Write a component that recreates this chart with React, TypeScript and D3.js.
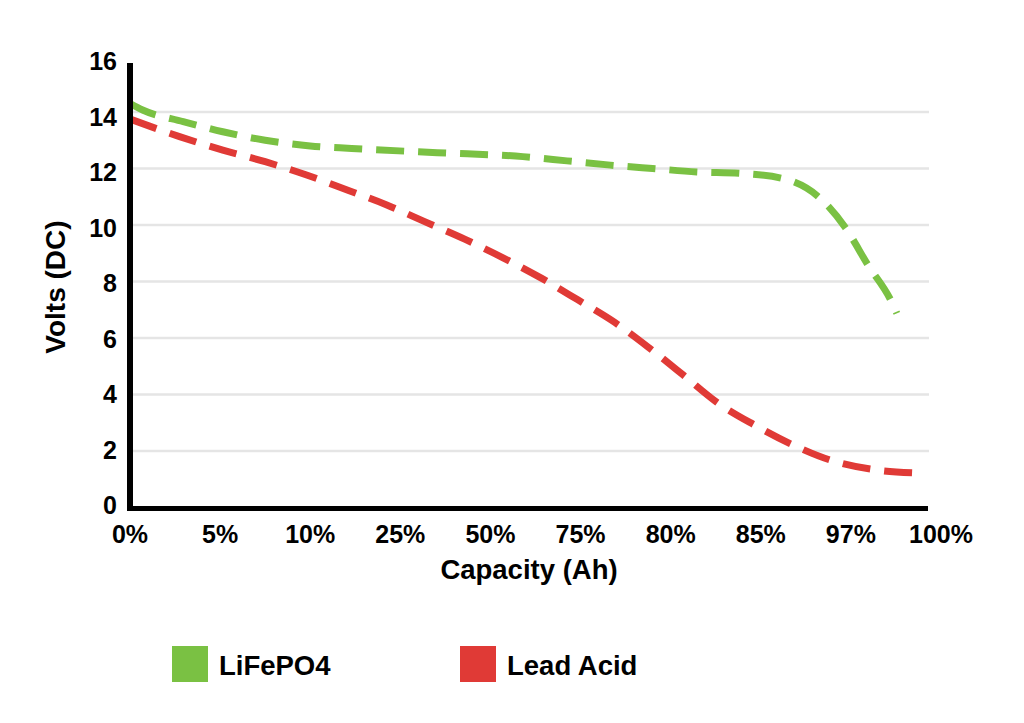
import React from "react";
import * as d3 from "d3";

const categories = ["0%", "5%", "10%", "25%", "50%", "75%", "80%", "85%", "97%", "100%"];
const yTicks = [0, 2, 4, 6, 8, 10, 12, 14, 16];
const gridValues = [2, 4, 6, 8, 10, 12, 14];

// positions along the category axis (fractional category index) and volts
const lifepoX = [0, 0.14, 0.59, 1.03, 1.5, 2.0, 2.46, 3.41, 4.36, 4.85, 5.33, 5.8, 6.29, 6.76, 7.24, 7.64, 7.94, 8.19, 8.45, 8.51];
const lifepoY = [14.3, 14.07, 13.66, 13.3, 13.0, 12.8, 12.71, 12.56, 12.42, 12.27, 12.12, 12.0, 11.88, 11.83, 11.65, 11.0, 9.9, 8.58, 7.29, 6.87];

const leadX = [0, 0.55, 1.03, 1.5, 1.96, 2.41, 2.85, 3.27, 3.72, 4.14, 4.57, 4.97, 5.38, 5.77, 6.14, 6.51, 6.93, 7.36, 7.8, 8.28, 8.73];
const leadY = [13.75, 13.13, 12.65, 12.24, 11.77, 11.24, 10.71, 10.12, 9.49, 8.84, 8.11, 7.35, 6.55, 5.63, 4.69, 3.73, 2.92, 2.21, 1.65, 1.33, 1.22];

const series = [
  { name: "LiFePO4", color: "#7AC143", xs: lifepoX, ys: lifepoY },
  { name: "Lead Acid", color: "#E03A36", xs: leadX, ys: leadY },
];

const FONT = "'Liberation Sans', Arial, Helvetica, sans-serif";

export default function App() {
  const W = 1024;
  const H = 723;
  const x = d3.scaleLinear().domain([0, categories.length - 1]).range([130, 941]);
  const y = d3.scaleLinear().domain([0, 16]).range([507.5, 55.5]);
  const yLabel = d3.scaleLinear().domain([0, 16]).range([505, 61]);

  const line = d3
    .line<[number, number]>()
    .x((d) => x(d[0]))
    .y((d) => y(d[1]))
    .curve(d3.curveMonotoneX);

  const legendX = [172, 460];

  return (
    <svg
      width={W}
      height={H}
      viewBox={`0 0 ${W} ${H}`}
      style={{ position: "absolute", left: 0, top: 0, background: "#fff" }}
      fontFamily={FONT}
      fontWeight="bold"
    >
      <rect x={0} y={0} width={W} height={H} fill="#fff" />
      {gridValues.map((v) => (
        <line key={v} x1={130} x2={929} y1={y(v)} y2={y(v)} stroke="#E5E5E5" strokeWidth={2.5} />
      ))}
      {series.map((s) => (
        <path
          key={s.name}
          d={line(s.xs.map((xv, i) => [xv, s.ys[i]] as [number, number])) || ""}
          fill="none"
          stroke={s.color}
          strokeWidth={7}
          strokeDasharray="28 14"
        />
      ))}
      {/* axes */}
      <line x1={130} x2={130} y1={63} y2={511} stroke="#000" strokeWidth={6} />
      <line x1={127} x2={928} y1={508.5} y2={508.5} stroke="#000" strokeWidth={5} />
      {yTicks.map((v) => (
        <text key={v} x={117} y={yLabel(v) + 9} textAnchor="end" fontSize={25} fill="#000">
          {v}
        </text>
      ))}
      {categories.map((c, i) => (
        <text key={c} x={x(i)} y={543} textAnchor="middle" fontSize={25} fill="#000">
          {c}
        </text>
      ))}
      <text x={529} y={579} textAnchor="middle" fontSize={27.5} fill="#000">
        Capacity (Ah)
      </text>
      <text transform="translate(65,287) rotate(-90)" textAnchor="middle" fontSize={28} fill="#000">
        Volts (DC)
      </text>
      {series.map((s, i) => (
        <g key={s.name}>
          <rect x={legendX[i]} y={646} width={36} height={36} fill={s.color} />
          <text x={legendX[i] + 47} y={675} fontSize={27.5} fill="#000">
            {s.name}
          </text>
        </g>
      ))}
    </svg>
  );
}
